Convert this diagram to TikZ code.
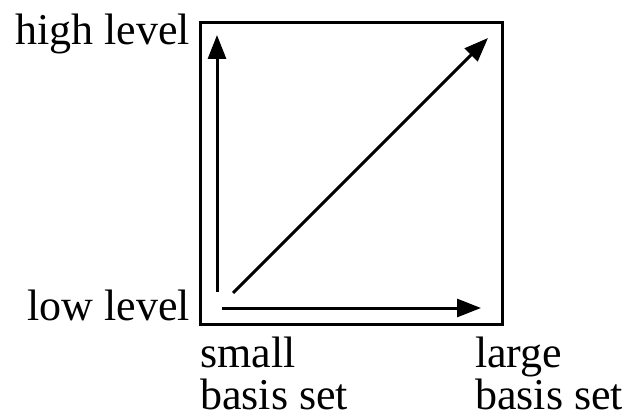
\documentclass[tikz,border=0pt]{standalone}
\usepackage{fontspec}
\setmainfont{Liberation Serif}
\usetikzlibrary{arrows.meta}
\definecolor{linecolor}{RGB}{0, 0, 0}
\definecolor{labelcolor}{RGB}{0, 0, 0}
\tikzset{
axislabel/.style={
  font=\fontsize{44}{42}\selectfont,
  text=labelcolor,
  inner sep=0pt,
  align=left
},
plotframe/.style={
  draw=linecolor,
  line width=3pt,
  minimum width=302pt,
  minimum height=301pt,
  inner sep=0pt
},
arrow/.style={
  -{Triangle[length=24pt,width=18pt]},
  line width=3pt,
  draw=linecolor
}
}

\begin{document}
\begin{tikzpicture}[x=1pt, y=-1pt]
\useasboundingbox (0,0) rectangle (631,419);

% ============================================================================
% RAHMEN
% ============================================================================
\node[plotframe] (box) at (351.5,173.5) {};

% Endpunkte der Pfeile
\coordinate (vstart) at (217,292);
\coordinate (vend) at (217,35);
\coordinate (hstart) at (222,308);
\coordinate (hend) at (481,308);
\coordinate (dstart) at (233,293);
\coordinate (dend) at (488,38);

\draw[arrow] (vstart) -- (vend);
\draw[arrow] (hstart) -- (hend);
\draw[arrow] (dstart) -- (dend);

% ============================================================================
% BESCHRIFTUNG
% ============================================================================
\node[axislabel, anchor=base east] (high) at (190,45) {high level};
\node[axislabel, anchor=base east] (low) at (190,320) {low level};
\node[axislabel, anchor=base west] (small) at (200,409) {small\\basis set};
\node[axislabel, anchor=base west] (large) at (475,409) {large\\basis set};

\end{tikzpicture}
\end{document}
